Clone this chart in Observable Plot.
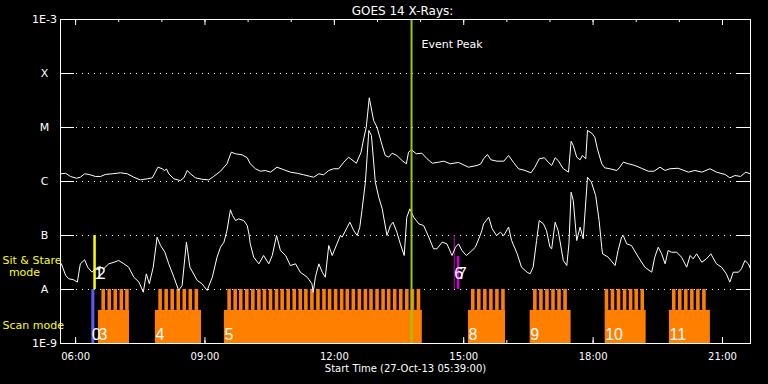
<!DOCTYPE html>
<html><head><meta charset="utf-8">
<script src="https://cdn.jsdelivr.net/npm/d3@7"></script>
<script src="https://cdn.jsdelivr.net/npm/@observablehq/plot@0.6"></script>
<style>
html,body{margin:0;padding:0;background:#000;}
#chart svg{display:block;}
</style></head><body><div id="chart"></div>
<script>
// ---- data (times in decimal UT hours on 27-Oct-2013) ----
const titleText = "GOES 14 X-Rays:";
const xTitleText = "Start Time (27-Oct-13 05:39:00)";
const startHour = 5.65, endHour = 21.65;

// GOES long channel (1-8 A), flux in units of 1e-6 W/m^2
const longUnit = 1e-6;
const longChannel = [
[5.67,1.39],[5.77,1.42],[5.88,1.24],[6.02,1.15],[6.11,1.20],[6.21,1.39],[6.31,1.35],[6.46,1.24],[6.58,1.24],[6.69,1.35],
[6.85,1.39],[7.04,1.45],[7.20,1.39],[7.35,1.20],[7.50,1.07],[7.66,1.12],[7.78,1.17],[7.85,1.49],[7.91,1.84],[8.01,1.72],
[8.06,1.60],[8.11,1.70],[8.16,1.39],[8.28,1.12],[8.43,1.04],[8.51,1.17],[8.59,1.60],[8.66,1.39],[8.78,1.17],[8.93,1.10],
[9.09,1.07],[9.20,1.24],[9.36,1.55],[9.51,2.13],[9.61,3.49],[9.71,3.26],[9.86,3.12],[9.98,2.75],[10.05,2.13],[10.17,1.72],
[10.29,1.55],[10.40,1.60],[10.52,1.49],[10.67,1.84],[10.83,1.65],[10.98,1.49],[11.14,1.42],[11.29,1.33],[11.52,1.20],[11.64,1.39],
[11.75,1.33],[11.87,1.60],[11.98,1.72],[12.10,1.72],[12.22,2.28],[12.33,2.82],[12.41,2.52],[12.51,2.18],[12.62,3.49],[12.68,6.17],
[12.74,10.1],[12.81,35.5],[12.91,13.5],[12.99,10.1],[13.11,4.64],[13.18,3.03],[13.26,2.82],[13.34,3.34],[13.45,3.03],[13.57,2.45],
[13.67,2.13],[13.72,3.49],[13.79,3.86],[13.90,3.26],[14.03,3.34],[14.15,2.63],[14.27,2.18],[14.42,2.28],[14.54,2.38],[14.69,2.13],
[14.88,2.25],[15.11,1.84],[15.31,1.98],[15.40,2.13],[15.46,2.63],[15.55,3.16],[15.63,2.52],[15.77,2.38],[15.93,2.38],[16.04,3.03],
[16.15,2.28],[16.27,1.72],[16.42,1.60],[16.56,1.45],[16.65,1.84],[16.75,2.63],[16.87,2.75],[16.96,2.28],[17.04,1.98],[17.12,2.75],
[17.19,2.45],[17.31,1.72],[17.43,1.49],[17.49,5.57],[17.54,4.64],[17.62,2.82],[17.70,2.52],[17.75,3.03],[17.83,2.63],[17.87,8.80],
[17.97,7.84],[18.04,6.61],[18.10,4.03],[18.20,2.13],[18.27,1.79],[18.39,1.72],[18.55,1.60],[18.62,1.84],[18.70,2.28],[18.82,2.13],
[18.97,1.98],[19.12,1.76],[19.28,1.55],[19.41,1.55],[19.55,1.84],[19.67,1.60],[19.78,1.72],[19.97,1.76],[20.21,1.49],[20.36,1.60],
[20.52,1.49],[20.71,1.72],[20.86,1.49],[21.06,1.35],[21.17,1.17],[21.29,1.29],[21.42,1.24],[21.54,1.49],[21.64,1.39]
];

// GOES short channel (0.5-4 A), flux in units of 1e-8 W/m^2
const shortUnit = 1e-8;
const shortChannel = [
[5.67,2.99],[5.77,1.82],[5.84,1.58],[5.96,1.51],[6.04,1.37],[6.11,2.99],[6.21,3.55],[6.28,2.59],[6.38,2.09],[6.46,2.42],
[6.56,2.67],[6.65,2.42],[6.77,2.99],[6.89,3.20],[7.00,3.44],[7.12,2.99],[7.23,2.59],[7.35,1.69],[7.47,1.37],[7.57,0.89],
[7.64,1.95],[7.71,1.28],[7.80,2.59],[7.89,9.31],[7.97,6.52],[8.07,4.90],[8.16,2.99],[8.28,1.69],[8.39,0.96],[8.47,1.19],
[8.57,7.52],[8.65,2.59],[8.82,1.47],[8.93,1.28],[9.05,0.96],[9.17,1.69],[9.28,3.97],[9.36,6.07],[9.44,7.52],[9.51,12.3],
[9.59,29.9],[9.64,23.4],[9.71,18.9],[9.78,20.3],[9.90,18.9],[9.98,15.3],[10.02,10.6],[10.05,7.01],[10.13,3.97],[10.25,2.99],
[10.36,4.26],[10.48,2.99],[10.56,4.26],[10.66,10.0],[10.75,5.27],[10.87,4.26],[10.98,2.78],[11.10,2.99],[11.21,2.09],[11.37,1.69],
[11.48,1.28],[11.51,0.89],[11.56,1.69],[11.64,2.99],[11.72,2.09],[11.79,1.69],[11.87,6.52],[11.95,4.26],[12.06,7.01],[12.14,10.0],
[12.18,9.31],[12.30,14.3],[12.36,17.6],[12.45,12.3],[12.53,10.0],[12.59,14.3],[12.64,29.0],[12.72,97.5],[12.80,880],[12.86,711],
[12.95,97.5],[13.03,51.1],[13.11,31.2],[13.22,10.0],[13.30,15.3],[13.36,17.6],[13.45,11.5],[13.53,7.01],[13.62,4.26],[13.68,21.8],
[13.75,31.2],[13.84,21.8],[13.96,16.4],[14.07,15.3],[14.19,9.31],[14.30,5.67],[14.38,5.67],[14.50,7.52],[14.61,7.01],[14.73,4.26],
[14.81,6.07],[14.88,7.01],[14.96,5.27],[15.06,4.26],[15.15,4.90],[15.27,6.07],[15.35,8.68],[15.42,12.3],[15.46,16.4],[15.58,21.8],
[15.66,13.3],[15.76,10.0],[15.85,11.5],[15.93,10.0],[16.04,14.3],[16.11,8.08],[16.24,4.58],[16.34,2.59],[16.47,2.09],[16.54,1.95],
[16.61,2.59],[16.69,8.08],[16.75,18.9],[16.85,16.4],[16.92,12.3],[17.00,6.07],[17.04,5.67],[17.12,17.6],[17.19,12.3],[17.31,3.44],
[17.39,2.78],[17.44,7.01],[17.49,63.3],[17.54,44.6],[17.62,8.08],[17.70,14.3],[17.77,8.68],[17.87,120],[17.96,97.5],[18.06,55.0],
[18.14,18.9],[18.20,6.07],[18.22,4.58],[18.35,3.97],[18.51,2.78],[18.58,5.27],[18.66,9.31],[18.70,10.0],[18.78,7.01],[18.89,6.52],
[19.05,3.97],[19.20,2.59],[19.36,2.09],[19.43,3.97],[19.51,6.07],[19.59,4.58],[19.67,2.99],[19.74,5.27],[19.82,4.90],[19.94,4.90],
[20.05,3.97],[20.17,2.59],[20.25,4.26],[20.32,3.70],[20.40,4.58],[20.52,3.20],[20.63,3.70],[20.73,4.58],[20.86,2.99],[20.98,2.59],
[21.09,1.95],[21.17,1.37],[21.25,2.09],[21.37,2.09],[21.44,2.42],[21.52,3.44],[21.60,2.99],[21.65,2.42]
];

// axis
const classTicks = [1e-9, 1e-8, 1e-7, 1e-6, 1e-5, 1e-4, 1e-3];
const classLabels = ["1E-9", "A", "B", "C", "M", "X", "1E-3"];
const gridLevels = [1e-8, 1e-7, 1e-6, 1e-5, 1e-4];
const majorTickHours = [6, 9, 12, 15, 18, 21];
const majorTickLabels = ["06:00", "09:00", "12:00", "15:00", "18:00", "21:00"];
const minorTickHours = [6, 7, 8, 9, 10, 11, 12, 13, 14, 15, 16, 17, 18, 19, 20, 21];

const eventPeakHour = 13.79;

// IRIS scan-mode observations
const scanLabels = ["3", "4", "5", "8", "9", "10", "11"];
const scanStart = [6.53, 7.85, 9.45, 15.11, 16.54, 18.28, 19.77];
const scanEnd   = [7.25, 8.92, 14.04, 15.97, 17.49, 19.23, 20.72];
const scanBase = 1e-9, scanBaseTop = 4.1e-9, scanRasterTop = 1e-8;
const rasterWidth = 0.083;
const rasterStarts = [
  6.61, 6.75, 6.89, 7.03, 7.16,
  7.93, 8.07, 8.21, 8.35, 8.49, 8.63, 8.77,
  9.53, 9.67, 9.80, 9.94, 10.08, 10.22, 10.35, 10.49, 10.63, 10.76, 10.90, 11.04, 11.18, 11.31, 11.45, 11.59,
  11.73, 11.86, 12.00, 12.14, 12.27, 12.41, 12.55, 12.69, 12.82, 12.96, 13.10, 13.23, 13.37, 13.51, 13.65, 13.78, 13.92,
  15.18, 15.32, 15.46, 15.60, 15.74, 15.88,
  16.62, 16.76, 16.90, 17.04, 17.18, 17.32,
  18.28, 18.42, 18.56, 18.70, 18.84, 18.97, 19.11,
  19.84, 19.98, 20.12, 20.26, 20.40, 20.54
];
// scan-mode single obs (blue) label "0"
const blueObsHour = 6.40, blueObsLabel = "0";

// sit & stare observations
const sitYellowHour = 6.44;
const sitMagentaThinHour = 14.78;
const sitMagentaThickStart = 14.85, sitMagentaThickEnd = 14.91, sitMagentaThickTop = 4.1e-8;
const sitLabels = ["1", "2", "6", "7"];
const sitLabelHours = [6.44, 6.49, 14.78, 14.86];

// ---- chart ----
const obsDay = Date.UTC(2013, 9, 27);
const toDate = h => new Date(obsDay + Math.round(h * 3600000));
const frameH = 324, frameW = 690;

const chart = Plot.plot({
  width: 768, height: 384,
  marginLeft: 60, marginRight: 18, marginTop: 19, marginBottom: 41,
  style: {background: "#000", color: "#fff", fontFamily: "DejaVu Sans, sans-serif", fontSize: "10px"},
  x: {type: "utc", domain: [toDate(startHour), toDate(endHour)], axis: null},
  y: {type: "log", domain: [1e-9, 1e-3], axis: null},
  marks: [
    // dotted class grid
    Plot.tickY(gridLevels, {y: d => d, stroke: "#fff", strokeDasharray: "1,5", insetLeft: 16, insetRight: 16}),
    // y ticks left and right
    Plot.tickY(classTicks, {y: d => d, stroke: "#fff", insetRight: frameW - 14}),
    Plot.tickY(classTicks, {y: d => d, stroke: "#fff", insetLeft: frameW - 14}),
    // x ticks top and bottom
    Plot.tickX(minorTickHours, {x: toDate, stroke: "#fff", insetBottom: frameH - 3}),
    Plot.tickX(majorTickHours, {x: toDate, stroke: "#fff", insetBottom: frameH - 6}),
    Plot.tickX(minorTickHours, {x: toDate, stroke: "#fff", insetTop: frameH - 3}),
    Plot.tickX(majorTickHours, {x: toDate, stroke: "#fff", insetTop: frameH - 6}),
    // scan blocks
    Plot.rect(scanStart, {x1: d => toDate(d), x2: (d, i) => toDate(scanEnd[i]), y1: scanBase, y2: scanBaseTop, fill: "#ff8000"}),
    Plot.rect(rasterStarts, {x1: d => toDate(d), x2: d => toDate(d + rasterWidth), y1: scanBaseTop, y2: scanRasterTop, fill: "#ff8000"}),
    // single observations
    Plot.ruleX([blueObsHour], {x: toDate, y1: 1e-9, y2: 1e-8, stroke: "#5b5bff", strokeWidth: 3}),
    Plot.ruleX([sitYellowHour], {x: toDate, y1: 1e-8, y2: 1e-7, stroke: "#ffff00", strokeWidth: 2.5}),
    Plot.ruleX([sitMagentaThinHour], {x: toDate, y1: 1e-8, y2: 1e-7, stroke: "#cc00cc", strokeWidth: 1}),
    Plot.rect([sitMagentaThickStart], {x1: d => toDate(d), x2: () => toDate(sitMagentaThickEnd), y1: 1e-8, y2: sitMagentaThickTop, fill: "#cc00cc"}),
    // GOES curves
    Plot.line(longChannel, {x: d => toDate(d[0]), y: d => d[1] * longUnit, stroke: "#fff", strokeWidth: 1}),
    Plot.line(shortChannel, {x: d => toDate(d[0]), y: d => d[1] * shortUnit, stroke: "#fff", strokeWidth: 1}),
    // event peak
    Plot.ruleX([eventPeakHour], {x: toDate, stroke: "#99cc00", strokeWidth: 2}),
    Plot.text([eventPeakHour], {x: toDate, text: () => "Event Peak", frameAnchor: "top", dx: 10, dy: 28, textAnchor: "start", lineAnchor: "bottom", fill: "#fff", fontSize: 11}),
    // observation labels
    Plot.text(scanStart, {x: d => toDate(d), text: (d, i) => scanLabels[i], frameAnchor: "bottom", dy: -4, textAnchor: "start", lineAnchor: "bottom", fill: "#fff", fontSize: 16, fontFamily: "Liberation Sans"}),
    Plot.text([blueObsHour], {x: toDate, text: () => blueObsLabel, frameAnchor: "bottom", dy: -4, dx: -1, textAnchor: "start", lineAnchor: "bottom", fill: "#fff", fontSize: 16, fontFamily: "Liberation Sans"}),
    Plot.text(sitLabelHours, {x: d => toDate(d), y: 1e-8, text: (d, i) => sitLabels[i], dy: -11, textAnchor: "start", lineAnchor: "bottom", fill: "#fff", fontSize: 16, fontFamily: "Liberation Sans"}),
    // y labels
    Plot.text(classTicks, {y: d => d, text: (d, i) => classLabels[i], frameAnchor: "left", dx: -16, textAnchor: "middle", lineAnchor: "middle", fill: "#fff", fontSize: 11}),
    // mode labels
    Plot.text(["Sit & Stare"], {frameAnchor: "top-left", dx: -58, dy: 244, textAnchor: "start", lineAnchor: "bottom", fill: "#ffff00", fontSize: 11}),
    Plot.text(["mode"], {frameAnchor: "top-left", dx: -36, dy: 256, textAnchor: "middle", lineAnchor: "bottom", fill: "#ffff00", fontSize: 11}),
    Plot.text(["Scan mode"], {frameAnchor: "top-left", dx: -58, dy: 309, textAnchor: "start", lineAnchor: "bottom", fill: "#ffff00", fontSize: 11}),
    // x labels
    Plot.text(majorTickHours, {x: toDate, text: (d, i) => majorTickLabels[i], frameAnchor: "bottom", dy: 16, lineAnchor: "bottom", fill: "#fff", fontSize: 10}),
    Plot.text([xTitleText], {frameAnchor: "bottom", dy: 28, lineAnchor: "bottom", fill: "#fff", fontSize: 10}),
    Plot.text([titleText], {frameAnchor: "top", dx: -3, dy: -5, lineAnchor: "bottom", fill: "#fff", fontSize: 12}),
    Plot.frame({stroke: "#fff"})
  ]
});
document.getElementById("chart").append(chart);
</script></body></html>
